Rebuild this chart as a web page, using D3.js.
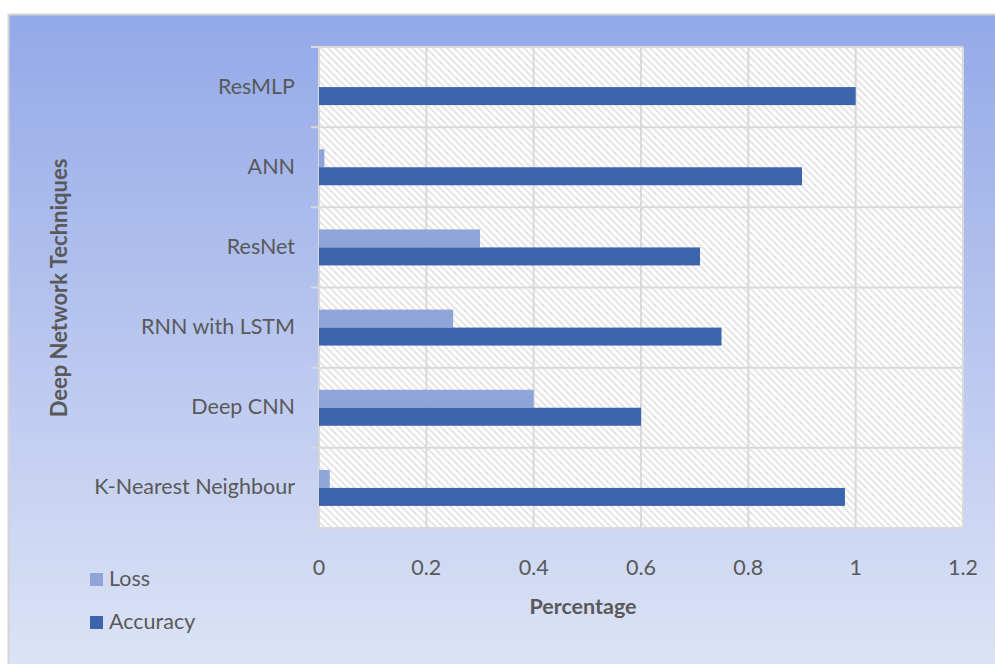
<!DOCTYPE html>
<html>
<head>
<meta charset="utf-8">
<script src="https://cdn.jsdelivr.net/npm/d3@7"></script>
<style>
  html, body { margin: 0; padding: 0; background: #fff; }
  svg { display: block; font-family: Lato, "Open Sans", sans-serif; }
</style>
</head>
<body>
<div id="chart"></div>
<script>
// Chart data (categories listed bottom to top as in the picture)
const categories = ['K-Nearest Neighbour', 'Deep CNN', 'RNN with LSTM', 'ResNet', 'ANN', 'ResMLP'];
const lossValues = [0.02, 0.4, 0.25, 0.3, 0.01, 0];
const accuracyValues = [0.98, 0.6, 0.75, 0.71, 0.9, 1.0];
const xTicks = [0, 0.2, 0.4, 0.6, 0.8, 1, 1.2];
const seriesNames = ['Loss', 'Accuracy'];

const width = 995, height = 664;
const plot = { left: 319, right: 963, top: 47, bottom: 528 };
const colors = { Loss: '#8fa4d9', Accuracy: '#3b64ad' };
const textColor = '#595959';
const gridColor = '#d9d9d9';
const fontSize = '21.5px';

const svg = d3.select('#chart')
    .append('svg')
    .attr('width', width)
    .attr('height', height);

const defs = svg.append('defs');

// Background gradient for the chart area
const grad = defs.append('linearGradient')
    .attr('id', 'bg')
    .attr('x1', 0).attr('y1', 0).attr('x2', 0).attr('y2', 1);
grad.append('stop').attr('offset', '0%').attr('stop-color', '#93a9e8');
grad.append('stop').attr('offset', '100%').attr('stop-color', '#dee4f6');

// Diagonal hatch for plot area
const hatch = defs.append('pattern')
    .attr('id', 'hatch')
    .attr('patternUnits', 'userSpaceOnUse')
    .attr('width', 7).attr('height', 7);
hatch.append('rect').attr('width', 7).attr('height', 7).attr('fill', '#fff');
hatch.append('path')
    .attr('d', 'M-1,-1 L8,8 M-1,6 L1,8 M6,-1 L8,1')
    .attr('stroke', '#e6e6e6')
    .attr('stroke-width', 2);

// Chart area
svg.append('rect')
    .attr('x', 8.5).attr('y', 14.5)
    .attr('width', width).attr('height', height)
    .attr('fill', 'url(#bg)')
    .attr('stroke', '#d4d4d4')
    .attr('stroke-width', 2);

// Scales
const x = d3.scaleLinear().domain([0, 1.2]).range([plot.left, plot.right]);
const y = d3.scaleBand().domain(categories).range([plot.bottom, plot.top]);
const barH = 18;
const inner = d3.scaleBand()
    .domain(seriesNames)
    .range([y.bandwidth() / 2 - barH, y.bandwidth() / 2 + barH]);

// Plot area
svg.append('rect')
    .attr('x', plot.left).attr('y', plot.top)
    .attr('width', plot.right - plot.left)
    .attr('height', plot.bottom - plot.top)
    .attr('fill', 'url(#hatch)');

// Vertical gridlines
svg.append('g')
    .selectAll('line')
    .data(xTicks)
    .join('line')
    .attr('x1', d => x(d)).attr('x2', d => x(d))
    .attr('y1', plot.top).attr('y2', plot.bottom)
    .attr('stroke', gridColor)
    .attr('stroke-width', 2);

// Horizontal category boundaries with ticks
const bounds = categories.map(c => y(c)).concat([plot.bottom]);
svg.append('g')
    .selectAll('line')
    .data(bounds)
    .join('line')
    .attr('x1', plot.left - 8).attr('x2', plot.right)
    .attr('y1', d => d).attr('y2', d => d)
    .attr('stroke', gridColor)
    .attr('stroke-width', 2);

// Bars
const rows = categories.map((c, i) => ({ cat: c, Loss: lossValues[i], Accuracy: accuracyValues[i] }));
const groups = svg.append('g')
    .selectAll('g')
    .data(rows)
    .join('g')
    .attr('transform', d => `translate(0,${y(d.cat)})`);

groups.selectAll('rect')
    .data(d => seriesNames.map(s => ({ s, v: d[s] })))
    .join('rect')
    .attr('x', x(0))
    .attr('y', d => inner(d.s))
    .attr('width', d => x(d.v) - x(0))
    .attr('height', inner.bandwidth())
    .attr('fill', d => colors[d.s]);

// Category labels
svg.append('g')
    .selectAll('text')
    .data(categories)
    .join('text')
    .attr('x', 295)
    .attr('y', d => y(d) + y.bandwidth() / 2 + 1)
    .attr('text-anchor', 'end')
    .attr('dominant-baseline', 'middle')
    .attr('fill', textColor)
    .style('font-size', fontSize)
    .text(d => d);

// X tick labels
svg.append('g')
    .selectAll('text')
    .data(xTicks)
    .join('text')
    .attr('x', d => x(d))
    .attr('y', 575)
    .attr('text-anchor', 'middle')
    .attr('fill', textColor)
    .style('font-size', fontSize)
    .text(d => d3.format('~g')(d));

// Axis titles
svg.append('text')
    .attr('x', 583).attr('y', 614)
    .attr('text-anchor', 'middle')
    .attr('fill', textColor)
    .style('font-size', fontSize)
    .style('font-weight', 'bold')
    .text('Percentage');

svg.append('text')
    .attr('transform', 'translate(67,288) rotate(-90)')
    .attr('text-anchor', 'middle')
    .attr('fill', textColor)
    .style('font-size', '22px')
    .style('font-weight', 'bold')
    .text('Deep Network Techniques');

// Legend
const legend = svg.append('g')
    .selectAll('g')
    .data(seriesNames)
    .join('g')
    .attr('transform', (d, i) => `translate(90,${580 + i * 43})`);

legend.append('rect')
    .attr('x', 0).attr('y', -7)
    .attr('width', 13).attr('height', 13)
    .attr('fill', d => colors[d]);

legend.append('text')
    .attr('x', 19).attr('y', 1)
    .attr('dominant-baseline', 'middle')
    .attr('fill', textColor)
    .style('font-size', fontSize)
    .text(d => d);
</script>
</body>
</html>
